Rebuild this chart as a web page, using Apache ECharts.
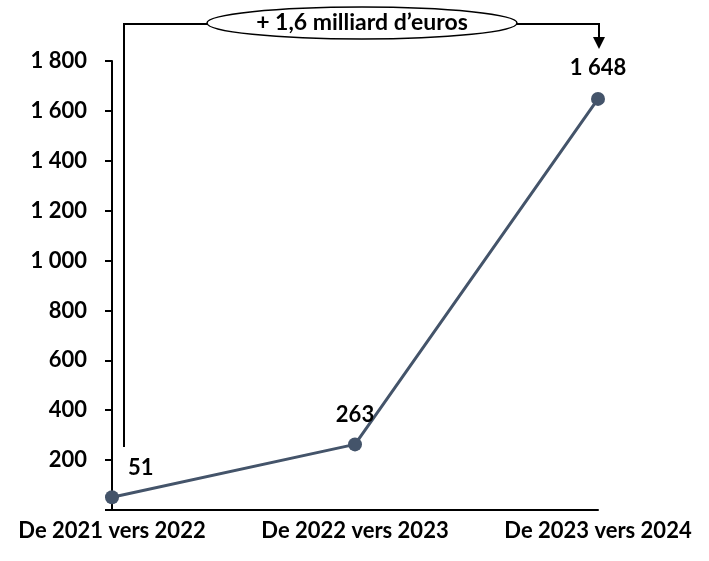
<!DOCTYPE html>
<html><head><meta charset="utf-8">
<script src="https://cdn.jsdelivr.net/npm/echarts@6/dist/echarts.min.js"></script>
<style>html,body{margin:0;padding:0;background:#fff}#c{width:709px;height:561px}</style>
</head><body><div id="c"></div>
<script>
const categories = ['De 2021 vers 2022', 'De 2022 vers 2023', 'De 2023 vers 2024'];
const values = [51, 263, 1648];
const annotationText = '+ 1,6 milliard d\u2019euros';
const FONT = 'Lato, "Open Sans", sans-serif';
const fmt = v => String(v).replace(/\B(?=(\d{3})+(?!\d))/g, ' ');

const chart = echarts.init(document.getElementById('c'));
const labelCfg = [
  {position: 'right', offset: [4, -29]},
  {position: 'top', offset: [0, -6]},
  {position: 'top', offset: [0, -8]}
];
chart.setOption({
  animation: false,
  grid: {left: 112, right: 111, top: 61, bottom: 51},
  xAxis: {
    type: 'category', data: categories, boundaryGap: false,
    axisLine: {lineStyle: {color: '#000', width: 2}},
    axisTick: {show: false},
    axisLabel: {interval: 0, hideOverlap: false, color: '#000', fontFamily: FONT, fontWeight: 'bold', fontSize: 22, margin: 10}
  },
  yAxis: {
    type: 'value', min: 0, max: 1800, interval: 200,
    splitLine: {show: false},
    axisLine: {show: true, lineStyle: {color: '#000', width: 2}},
    axisTick: {show: true, length: 7, lineStyle: {color: '#000', width: 2}},
    axisLabel: {color: '#000', fontFamily: FONT, fontWeight: 'bold', fontSize: 22, margin: 25,
      formatter: v => v === 0 ? '' : fmt(v)}
  },
  series: [{
    type: 'line',
    data: values.map((v, i) => ({value: v, label: labelCfg[i]})),
    symbol: 'circle', symbolSize: 14,
    lineStyle: {color: '#44546A', width: 3},
    itemStyle: {color: '#44546A'},
    label: {show: true, color: '#000', fontFamily: FONT, fontWeight: 'bold', fontSize: 22,
      formatter: p => fmt(p.value)}
  }]
});

const p0 = chart.convertToPixel({xAxisIndex: 0, yAxisIndex: 0}, [0, values[0]]);
const p2 = chart.convertToPixel({xAxisIndex: 0, yAxisIndex: 0}, [2, values[2]]);
const yTop = 24;
const xL = p0[0] + 12;
const xR = p2[0] + 1;
const cx = 362;
chart.setOption({
  graphic: [
    {type: 'polyline', shape: {points: [[xL, 447], [xL, yTop], [xR, yTop], [xR, 40]]},
      style: {stroke: '#000', lineWidth: 2, fill: null}},
    {type: 'polygon', shape: {points: [[xR - 6, 37], [xR + 6, 37], [xR, 49]]},
      style: {fill: '#000'}},
    {type: 'ellipse', shape: {cx: cx, cy: yTop - 1, rx: 155, ry: 16},
      style: {fill: '#fff', stroke: '#000', lineWidth: 1.5}},
    {type: 'text', x: cx, y: yTop - 1, style: {text: annotationText, fill: '#000',
      font: 'bold 23px ' + FONT, align: 'center', verticalAlign: 'middle'}}
  ]
});
</script></body></html>
